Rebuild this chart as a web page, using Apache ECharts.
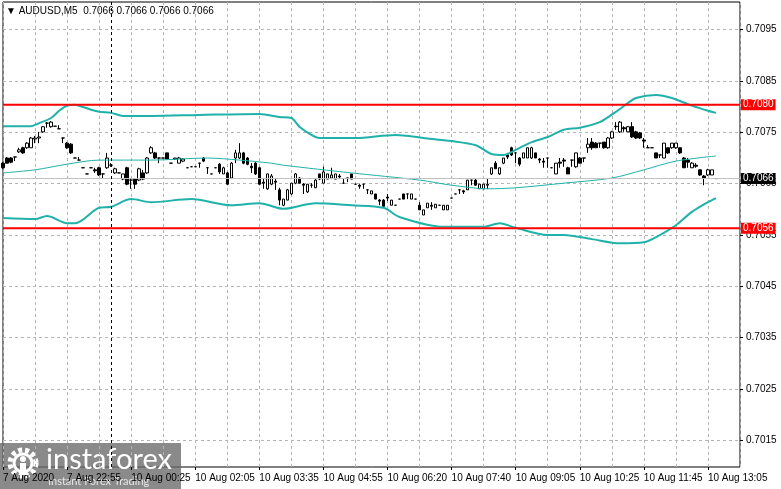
<!DOCTYPE html>
<html>
<head>
<meta charset="utf-8">
<script src="https://cdn.jsdelivr.net/npm/echarts@6/dist/echarts.min.js"></script>
<style>
html, body { margin: 0; padding: 0; background: #fff; }
#chart { width: 781px; height: 489px; }
</style>
</head>
<body>
<div id="chart"></div>
<script>
var symbolName = 'AUDUSD,M5';
var timeLabels = ['7 Aug 2020', '7 Aug 22:55', '10 Aug 00:25', '10 Aug 02:05', '10 Aug 03:35', '10 Aug 04:55',
  '10 Aug 06:20', '10 Aug 07:40', '10 Aug 09:05', '10 Aug 10:25', '10 Aug 11:45', '10 Aug 13:05'];
var labelStep = 16;
var slotCount = 185;
var daySeparator = 27;
var priceTicks = [0.7015, 0.7025, 0.7035, 0.7045, 0.7055, 0.7065, 0.7075, 0.7085, 0.7095];
var levels = [0.70804, 0.70563];

// M5 bars: [open, close, low, high]
var ohlc = [
  [0.70690,0.70681,0.70679,0.70692],[0.70700,0.70690,0.70690,0.70702],[0.70700,0.70692,0.70690,0.70702],[0.70702,0.70702,0.70694,0.70702],
  [0.70712,0.70716,0.70710,0.70720],[0.70720,0.70710,0.70708,0.70722],[0.70720,0.70729,0.70718,0.70731],[0.70720,0.70739,0.70720,0.70741],
  [0.70737,0.70739,0.70729,0.70743],[0.70739,0.70741,0.70729,0.70751],[0.70751,0.70761,0.70749,0.70762],[0.70768,0.70768,0.70759,0.70770],
  [0.70761,0.70770,0.70759,0.70772],[0.70762,0.70762,0.70762,0.70762],[0.70757,0.70757,0.70757,0.70764],[0.70739,0.70739,0.70729,0.70739],
  [0.70729,0.70720,0.70718,0.70731],[0.70727,0.70710,0.70708,0.70729],[0.70700,0.70700,0.70700,0.70700],[0.70696,0.70696,0.70696,0.70702],
  [0.70681,0.70681,0.70681,0.70681],[0.70669,0.70669,0.70669,0.70669],[0.70681,0.70681,0.70681,0.70681],[0.70677,0.70675,0.70671,0.70681],
  [0.70681,0.70667,0.70665,0.70683],[0.70669,0.70669,0.70661,0.70669],[0.70681,0.70700,0.70679,0.70710],[0.70686,0.70686,0.70683,0.70690],
  [0.70671,0.70679,0.70669,0.70681],[0.70671,0.70671,0.70671,0.70671],[0.70659,0.70669,0.70657,0.70669],[0.70681,0.70649,0.70647,0.70683],
  [0.70657,0.70657,0.70640,0.70661],[0.70659,0.70649,0.70640,0.70661],[0.70657,0.70679,0.70655,0.70681],[0.70671,0.70659,0.70657,0.70677],
  [0.70671,0.70700,0.70669,0.70702],[0.70710,0.70720,0.70708,0.70723],[0.70710,0.70700,0.70698,0.70712],[0.70700,0.70700,0.70690,0.70700],
  [0.70700,0.70700,0.70700,0.70700],[0.70710,0.70698,0.70698,0.70710],[0.70690,0.70690,0.70690,0.70690],[0.70698,0.70700,0.70696,0.70700],
  [0.70690,0.70700,0.70690,0.70702],[0.70694,0.70698,0.70692,0.70700],[0.70681,0.70681,0.70681,0.70681],[0.70683,0.70683,0.70683,0.70683],
  [0.70683,0.70683,0.70683,0.70683],[0.70690,0.70690,0.70681,0.70690],[0.70700,0.70694,0.70692,0.70702],[0.70681,0.70681,0.70669,0.70681],
  [0.70669,0.70669,0.70669,0.70669],[0.70681,0.70681,0.70681,0.70681],[0.70688,0.70673,0.70669,0.70690],[0.70669,0.70681,0.70669,0.70683],
  [0.70671,0.70649,0.70647,0.70673],[0.70661,0.70690,0.70659,0.70692],[0.70700,0.70710,0.70690,0.70716],[0.70700,0.70710,0.70698,0.70729],
  [0.70710,0.70690,0.70688,0.70712],[0.70700,0.70688,0.70686,0.70702],[0.70684,0.70681,0.70671,0.70690],[0.70690,0.70669,0.70667,0.70692],
  [0.70681,0.70649,0.70647,0.70683],[0.70653,0.70651,0.70640,0.70661],[0.70640,0.70669,0.70638,0.70669],[0.70649,0.70665,0.70647,0.70669],
  [0.70655,0.70653,0.70638,0.70659],[0.70638,0.70618,0.70608,0.70642],[0.70608,0.70620,0.70606,0.70620],[0.70618,0.70638,0.70618,0.70640],
  [0.70630,0.70651,0.70628,0.70651],[0.70651,0.70669,0.70649,0.70671],[0.70661,0.70651,0.70651,0.70663],[0.70649,0.70647,0.70630,0.70651],
  [0.70634,0.70649,0.70632,0.70649],[0.70647,0.70647,0.70642,0.70651],[0.70642,0.70657,0.70642,0.70659],[0.70669,0.70659,0.70657,0.70669],
  [0.70651,0.70673,0.70651,0.70683],[0.70659,0.70669,0.70659,0.70669],[0.70661,0.70667,0.70659,0.70681],[0.70659,0.70669,0.70659,0.70669],
  [0.70665,0.70663,0.70659,0.70669],[0.70651,0.70651,0.70651,0.70659],[0.70661,0.70661,0.70653,0.70661],[0.70669,0.70659,0.70659,0.70669],
  [0.70649,0.70649,0.70649,0.70649],[0.70647,0.70645,0.70640,0.70649],[0.70649,0.70649,0.70640,0.70649],[0.70638,0.70638,0.70630,0.70638],
  [0.70630,0.70636,0.70630,0.70636],[0.70630,0.70620,0.70620,0.70630],[0.70618,0.70616,0.70608,0.70620],[0.70618,0.70606,0.70605,0.70620],
  [0.70624,0.70622,0.70616,0.70630],[0.70608,0.70618,0.70608,0.70618],[0.70608,0.70608,0.70608,0.70608],[0.70620,0.70620,0.70620,0.70620],
  [0.70630,0.70620,0.70620,0.70630],[0.70630,0.70630,0.70620,0.70630],[0.70620,0.70630,0.70620,0.70630],[0.70620,0.70620,0.70620,0.70620],
  [0.70608,0.70599,0.70599,0.70614],[0.70589,0.70599,0.70589,0.70599],[0.70603,0.70612,0.70603,0.70612],[0.70608,0.70606,0.70599,0.70614],
  [0.70603,0.70610,0.70603,0.70610],[0.70608,0.70608,0.70608,0.70608],[0.70599,0.70608,0.70599,0.70608],[0.70599,0.70608,0.70599,0.70608],
  [0.70622,0.70622,0.70622,0.70622],[0.70630,0.70630,0.70630,0.70630],[0.70638,0.70638,0.70630,0.70638],[0.70636,0.70634,0.70630,0.70638],
  [0.70638,0.70657,0.70638,0.70657],[0.70657,0.70657,0.70647,0.70657],[0.70657,0.70647,0.70647,0.70659],[0.70640,0.70649,0.70640,0.70649],
  [0.70640,0.70649,0.70640,0.70649],[0.70647,0.70649,0.70640,0.70659],[0.70669,0.70681,0.70667,0.70681],[0.70690,0.70679,0.70679,0.70694],
  [0.70669,0.70681,0.70667,0.70681],[0.70690,0.70700,0.70688,0.70700],[0.70706,0.70702,0.70698,0.70710],[0.70720,0.70706,0.70704,0.70722],
  [0.70710,0.70710,0.70690,0.70710],[0.70700,0.70688,0.70684,0.70702],[0.70700,0.70710,0.70700,0.70710],[0.70700,0.70720,0.70700,0.70720],
  [0.70700,0.70720,0.70698,0.70722],[0.70710,0.70700,0.70700,0.70710],[0.70698,0.70696,0.70690,0.70700],[0.70694,0.70692,0.70681,0.70700],
  [0.70700,0.70700,0.70681,0.70700],[0.70681,0.70681,0.70681,0.70681],[0.70669,0.70690,0.70669,0.70690],[0.70692,0.70690,0.70681,0.70700],
  [0.70696,0.70694,0.70683,0.70700],[0.70681,0.70669,0.70669,0.70683],[0.70696,0.70696,0.70683,0.70696],[0.70683,0.70710,0.70681,0.70710],
  [0.70700,0.70690,0.70690,0.70702],[0.70700,0.70700,0.70692,0.70700],[0.70720,0.70727,0.70710,0.70739],[0.70731,0.70720,0.70716,0.70739],
  [0.70729,0.70720,0.70720,0.70731],[0.70729,0.70729,0.70720,0.70729],[0.70731,0.70720,0.70718,0.70731],[0.70720,0.70739,0.70718,0.70741],
  [0.70739,0.70751,0.70737,0.70753],[0.70761,0.70762,0.70755,0.70770],[0.70751,0.70770,0.70749,0.70772],[0.70759,0.70757,0.70751,0.70762],
  [0.70751,0.70761,0.70751,0.70762],[0.70761,0.70741,0.70739,0.70770],[0.70751,0.70739,0.70737,0.70753],[0.70749,0.70739,0.70737,0.70751],
  [0.70735,0.70733,0.70720,0.70739],[0.70720,0.70720,0.70720,0.70725],[0.70720,0.70720,0.70720,0.70720],[0.70710,0.70700,0.70700,0.70710],
  [0.70706,0.70706,0.70700,0.70706],[0.70700,0.70729,0.70700,0.70729],[0.70720,0.70710,0.70708,0.70720],[0.70720,0.70729,0.70718,0.70729],
  [0.70720,0.70729,0.70718,0.70729],[0.70720,0.70710,0.70708,0.70720],[0.70700,0.70681,0.70681,0.70702],[0.70696,0.70692,0.70681,0.70700],
  [0.70681,0.70690,0.70681,0.70692],[0.70686,0.70684,0.70681,0.70690],[0.70677,0.70667,0.70665,0.70677],[0.70665,0.70661,0.70647,0.70667],
  [0.70667,0.70677,0.70665,0.70679],[0.70667,0.70677,0.70667,0.70677],[0.70660,0.70660,0.70660,0.70660]
];

// Bollinger bands: [bar index, price]
var upperBand = [[0,0.70762],[7,0.70762],[9,0.70768],[12,0.70778],[14,0.70792],[16,0.70802],[18,0.70804],[19,0.70802],
  [22,0.70794],[24,0.70790],[27,0.70788],[30,0.70782],[37,0.70782],[49,0.70784],[64,0.70786],[69,0.70780],[72,0.70778],
  [74,0.70761],[77,0.70745],[79,0.70739],[88,0.70739],[98,0.70745],[105,0.70739],[112,0.70733],[118,0.70725],[122,0.70708],
  [125,0.70706],[128,0.70716],[132,0.70731],[136,0.70741],[140,0.70755],[144,0.70759],[149,0.70770],[153,0.70790],[156,0.70807],
  [158,0.70817],[163,0.70823],[167,0.70817],[172,0.70802],[176,0.70792],[178,0.70788]];
var middleBand = [[0,0.70671],[8,0.70677],[16,0.70688],[24,0.70696],[37,0.70696],[51,0.70700],[59,0.70696],[67,0.70690],
  [70,0.70686],[87,0.70671],[104,0.70657],[112,0.70647],[121,0.70640],[128,0.70642],[140,0.70651],[152,0.70661],[160,0.70677],
  [168,0.70694],[178,0.70704]];
var lowerBand = [[0,0.70583],[8,0.70581],[11,0.70587],[16,0.70573],[18,0.70573],[24,0.70603],[27,0.70605],[32,0.70620],
  [37,0.70614],[47,0.70620],[57,0.70608],[64,0.70612],[70,0.70601],[78,0.70612],[87,0.70608],[95,0.70603],[99,0.70585],
  [110,0.70566],[120,0.70566],[124,0.70573],[128,0.70564],[136,0.70550],[140,0.70550],[147,0.70542],[154,0.70534],[160,0.70536],
  [164,0.70550],[168,0.70569],[172,0.70595],[176,0.70614],[178,0.70622]];

var lastClose = ohlc[ohlc.length - 1][1];
var slots = [];
for (var i = 0; i < slotCount; i++) slots.push(String(i));
var font = 'Liberation Sans, Arial, sans-serif';
var band = '#20b2aa';

// a full-width horizontal price line with its tag on the price scale
function hLine(value, color, width, tag) {
  return {
    type: 'line', silent: true, showSymbol: false, animation: false, z: 3,
    data: [[0, value], [slotCount - 1, value]],
    lineStyle: { color: color, width: width },
    endLabel: {
      show: true, distance: 1, formatter: function () { return value.toFixed(4); },
      backgroundColor: tag, color: '#fff', fontSize: 10, fontFamily: font, padding: [1, 2, 0, 2]
    }
  };
}

var series = [
  { type: 'line', data: upperBand, showSymbol: false, smooth: 0.3, silent: true, lineStyle: { color: band, width: 2 } },
  { type: 'line', data: middleBand, showSymbol: false, smooth: 0.3, silent: true, lineStyle: { color: band, width: 1 } },
  { type: 'line', data: lowerBand, showSymbol: false, smooth: 0.3, silent: true, lineStyle: { color: band, width: 2 } },
  hLine(lastClose, '#c0c0c0', 1, '#000'),
  {
    type: 'candlestick',
    data: ohlc,
    barWidth: 3,
    itemStyle: { color: '#fff', color0: '#000', borderColor: '#000', borderColor0: '#000', borderWidth: 1 },
    markLine: {
      silent: true, symbol: ['none', 'none'], animation: false,
      data: [{ xAxis: daySeparator, lineStyle: { color: '#000', type: [3, 3], width: 1 }, label: { show: false } }]
    }
  }
];
levels.forEach(function (v) { series.push(hLine(v, '#ff0000', 2, '#ff0000')); });

var chart = echarts.init(document.getElementById('chart'));
var option = {
  animation: false,
  backgroundColor: '#fff',
  title: {
    text: '\u25BC ' + symbolName + '  ' + [lastClose, lastClose, lastClose, lastClose].map(function (v) { return v.toFixed(4); }).join(' '),
    left: 6, top: 6, padding: 0,
    textStyle: { fontSize: 10, fontWeight: 'normal', color: '#000', fontFamily: font }
  },
  grid: { left: 3, top: 2, width: 737, height: 465, show: true, borderColor: '#000', borderWidth: 1, backgroundColor: '#fff' },
  xAxis: {
    type: 'category',
    data: slots,
    boundaryGap: false,
    axisLine: { show: false },
    axisTick: { show: true, interval: labelStep - 1, length: 3, lineStyle: { color: '#000' } },
    axisLabel: {
      interval: labelStep - 1, align: 'left', margin: 6, fontSize: 10, color: '#000', fontFamily: font,
      formatter: function (v, idx) { return timeLabels[idx / labelStep] || ''; }
    },
    splitLine: { show: true, interval: 7, lineStyle: { color: '#b4b4b4', type: [3, 3], width: 1 } }
  },
  yAxis: {
    type: 'value',
    position: 'right',
    min: 0.70098, max: 0.71004,
    axisLine: { show: false },
    axisTick: { show: true, customValues: priceTicks, length: 3, lineStyle: { color: '#000' } },
    axisLabel: {
      customValues: priceTicks, margin: 6, fontSize: 10, color: '#000', fontFamily: font,
      formatter: function (v) { return v.toFixed(4); }
    },
    splitLine: { show: true, lineStyle: { color: '#b4b4b4', type: [3, 3], width: 1 } }
  },
  series: series,
  graphic: [
    {
      type: 'group', left: 0, top: 443, z: 100,
      children: [
        { type: 'rect', shape: { x: 0, y: 0, width: 181, height: 46 }, style: { fill: 'rgba(105,105,105,0.78)' } },
        { type: 'circle', shape: { cx: 23, cy: 20, r: 13 }, style: { fill: 'none', stroke: '#fff', lineWidth: 5, lineDash: [4, 3] } },
        { type: 'circle', shape: { cx: 23, cy: 20, r: 9 }, style: { fill: 'none', stroke: '#fff', lineWidth: 3 } },
        { type: 'circle', shape: { cx: 23, cy: 16, r: 3 }, style: { fill: '#fff' } },
        { type: 'rect', shape: { x: 20, y: 20, width: 6, height: 12 }, style: { fill: '#fff' } },
        { type: 'text', style: { x: 46, y: 17, text: 'instaforex', fill: '#fff', font: '29px Lato, "Open Sans", sans-serif', textVerticalAlign: 'middle' } },
        { type: 'text', style: { x: 48, y: 38, text: 'Instant Forex Trading', fill: '#e6e6e6', font: '11px Lato, "Open Sans", sans-serif', textVerticalAlign: 'middle' } }
      ]
    }
  ]
};
chart.setOption(option);
</script>
</body>
</html>
